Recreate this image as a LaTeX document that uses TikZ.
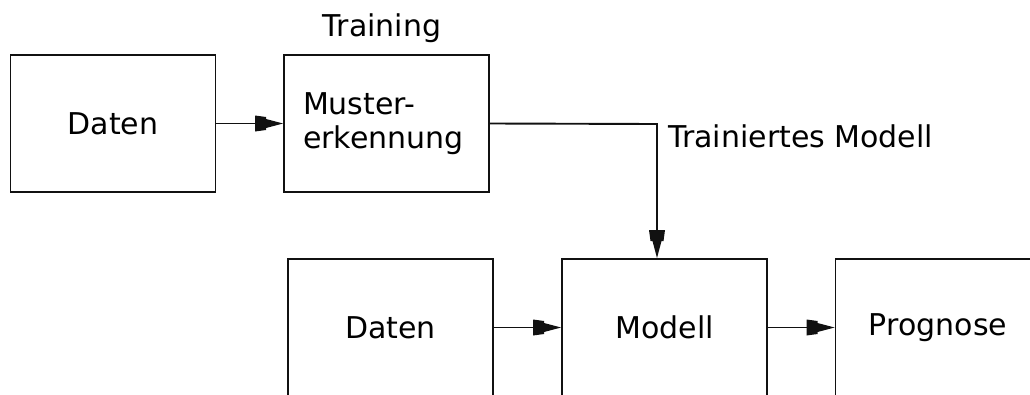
\documentclass[tikz,border=0pt]{standalone}
\usepackage{fontspec}
\setmainfont{DejaVu Sans}
\usetikzlibrary{calc}

% Arrow tip with a wide back and a narrower point
\pgfdeclarearrow{
  name = Notched,
  setup code = {
    \pgfarrowssettipend{0pt}
    \pgfarrowssetbackend{-28pt}
    \pgfarrowssetlineend{-18pt}
    \pgfarrowsupperhullpoint{-28pt}{8pt}
    \pgfarrowsupperhullpoint{0pt}{0pt}
  },
  drawing code = {
    \pgfpathmoveto{\pgfpointorigin}
    \pgfpathlineto{\pgfpoint{-17pt}{4.5pt}}
    \pgfpathlineto{\pgfpoint{-17pt}{6.5pt}}
    \pgfpathlineto{\pgfpoint{-28pt}{8pt}}
    \pgfpathlineto{\pgfpoint{-28pt}{-8pt}}
    \pgfpathlineto{\pgfpoint{-17pt}{-6.5pt}}
    \pgfpathlineto{\pgfpoint{-17pt}{-4.5pt}}
    \pgfpathclose
    \pgfusepathqfill
  }
}

\definecolor{ink}{HTML}{111111}

\tikzset{
  block/.style={draw=ink, line width=1.9pt, rectangle, minimum width=205pt,
    minimum height=137pt, inner sep=0pt, font=\fontsize{30}{34}\selectfont},
  label/.style={inner sep=0pt, font=\fontsize{30}{34}\selectfont},
  flow/.style={draw=ink, line width=1.9pt, -Notched}
}

\begin{document}
\begin{tikzpicture}[x=1pt, y=-1pt]
  \useasboundingbox (0,0) rectangle (1030,394);
  \clip (0,0) rectangle (1030,394);

  % training stage
  \node[block] (daten1) at (113,123.5) {Daten};
  \node[block, text width=167pt, align=left, inner xsep=19pt] (muster) at (386.5,123.5)
    {Muster-\\erkennung};
  \node[label] (training) at (382,28) {Training};

  % prediction stage
  \node[block] (daten2) at (390.5,327.5) {Daten};
  \node[block] (modell) at (664.5,327.5) {Modell};
  \node[block] (prognose) at (938,327.5) {Prognose};

  \coordinate (bend) at (657,124);
  \node[label, anchor=west] (trained) at (668,136) {Trainiertes Modell};

  % connectors
  \draw[flow] (daten1.east) -- (muster.west);
  \draw[flow] (muster.east) -- (bend) -- (bend |- modell.north);
  \draw[flow] (daten2.east) -- (modell.west);
  \draw[flow] (modell.east) -- (prognose.west);
\end{tikzpicture}
\end{document}
